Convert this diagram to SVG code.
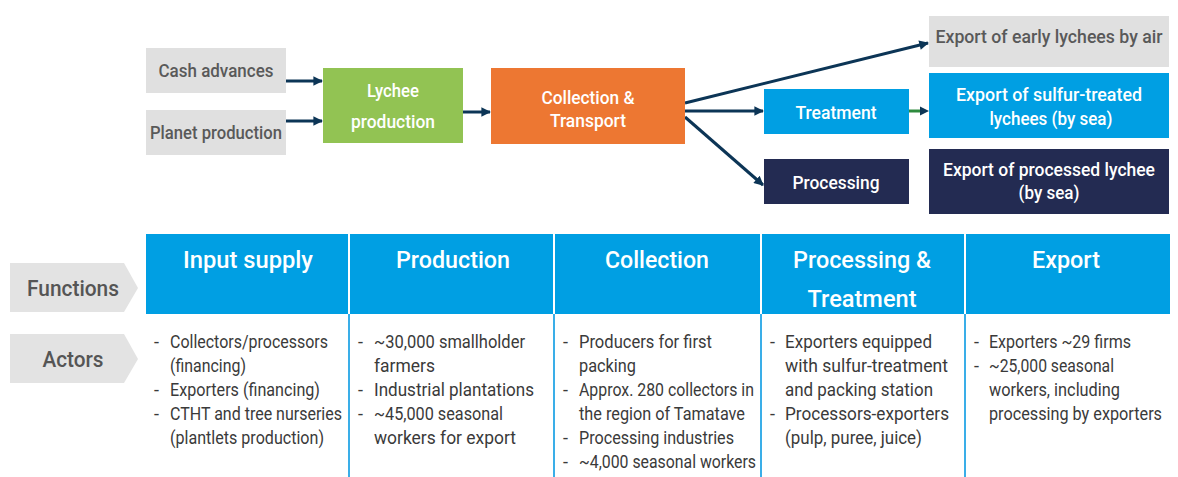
<svg xmlns="http://www.w3.org/2000/svg" width="1178" height="477" viewBox="0 0 1178 477">
<defs>
<marker id="ah" viewBox="0 0 10 10" refX="9" refY="5" markerWidth="3.4" markerHeight="3.2" orient="auto" markerUnits="strokeWidth"><path d="M0,0 L10,5 L0,10 z" fill="#0c3556"/></marker>
</defs>
<style>
text{font-family:Roboto,"Liberation Sans",sans-serif;}
.gt{fill:#595959;font-size:19px;font-weight:500;text-anchor:middle;}
.wt{fill:#ffffff;font-size:19px;font-weight:500;text-anchor:middle;}
.ht{fill:#ffffff;font-size:24.5px;font-weight:500;text-anchor:middle;}
.bt{fill:#3a3a3a;font-size:18px;font-weight:400;}
.lt{fill:#555555;font-size:21.5px;font-weight:500;text-anchor:middle;}
.c{stroke:#0c3556;stroke-width:3;fill:none;marker-end:url(#ah);}
.vl{stroke:#3aaee8;stroke-width:2;}
</style>
<g id="connectors">
<line class="c" x1="286" y1="81" x2="322" y2="81"/>
<line class="c" x1="286" y1="121" x2="322" y2="121"/>
<line class="c" x1="463" y1="112" x2="490" y2="112"/>
<line class="c" x1="685" y1="103" x2="928" y2="43"/>
<line class="c" x1="685" y1="111" x2="763" y2="111"/>
<line class="c" x1="685" y1="117" x2="763" y2="185"/>
<line x1="909" y1="111" x2="921" y2="111" stroke="#2e8b3e" stroke-width="3"/>
<path d="M920,106.5 L929,111 L920,115.5 z" fill="#0c3556"/>
</g>
<g id="cash"><rect x="146" y="48" width="140" height="45" fill="#e0e0e0"/><text class="gt" x="216" y="77" textLength="115" lengthAdjust="spacingAndGlyphs">Cash advances</text></g>
<g id="planet"><rect x="146" y="110" width="140" height="45" fill="#e0e0e0"/><text class="gt" x="216" y="139" textLength="132" lengthAdjust="spacingAndGlyphs">Planet production</text></g>
<g id="lychee"><rect x="323" y="68" width="140" height="75" fill="#92c353"/><text class="wt" x="393" y="97" textLength="52" lengthAdjust="spacingAndGlyphs">Lychee</text><text class="wt" x="393" y="128" textLength="84" lengthAdjust="spacingAndGlyphs">production</text></g>
<g id="collect"><rect x="491" y="68" width="194" height="76" fill="#ed7732"/><text class="wt" x="588" y="104" textLength="93" lengthAdjust="spacingAndGlyphs">Collection &amp;</text><text class="wt" x="588" y="127" textLength="76" lengthAdjust="spacingAndGlyphs">Transport</text></g>
<g id="treatment"><rect x="764" y="89" width="145" height="45" fill="#009fe3"/><text class="wt" x="836" y="119" textLength="81" lengthAdjust="spacingAndGlyphs">Treatment</text></g>
<g id="processing"><rect x="764" y="159" width="145" height="45" fill="#232b52"/><text class="wt" x="836" y="189" textLength="87" lengthAdjust="spacingAndGlyphs">Processing</text></g>
<g id="exp-air"><rect x="929" y="16" width="240" height="51" fill="#e0e0e0"/><text class="gt" x="1049" y="43" textLength="227" lengthAdjust="spacingAndGlyphs">Export of early lychees by air</text></g>
<g id="exp-sulfur"><rect x="929" y="73" width="240" height="65" fill="#009fe3"/><text class="wt" x="1049" y="101" textLength="186" lengthAdjust="spacingAndGlyphs">Export of sulfur-treated</text><text class="wt" x="1051" y="125" textLength="123" lengthAdjust="spacingAndGlyphs">lychees (by sea)</text></g>
<g id="exp-proc"><rect x="929" y="149" width="240" height="65" fill="#232b52"/><text class="wt" x="1049" y="176" textLength="212" lengthAdjust="spacingAndGlyphs">Export of processed lychee</text><text class="wt" x="1049" y="199" textLength="61" lengthAdjust="spacingAndGlyphs">(by sea)</text></g>
<g id="functions"><path d="M10,263 L124,263 L138,288 L124,312 L10,312 z" fill="#e3e3e3"/><text class="lt" x="73" y="296" textLength="92" lengthAdjust="spacingAndGlyphs">Functions</text></g>
<g id="actors"><path d="M10,334 L124,334 L138,359 L124,383 L10,383 z" fill="#e3e3e3"/><text class="lt" x="73" y="367" textLength="61" lengthAdjust="spacingAndGlyphs">Actors</text></g>
<g id="table">
<rect x="146" y="234" width="202" height="80" fill="#009fe3"/>
<rect x="350" y="234" width="203" height="80" fill="#009fe3"/>
<rect x="555" y="234" width="205" height="80" fill="#009fe3"/>
<rect x="762" y="234" width="202" height="80" fill="#009fe3"/>
<rect x="966" y="234" width="204" height="80" fill="#009fe3"/>
<line class="vl" x1="349" y1="314" x2="349" y2="477"/>
<line class="vl" x1="554" y1="314" x2="554" y2="477"/>
<line class="vl" x1="761" y1="314" x2="761" y2="477"/>
<line class="vl" x1="965" y1="314" x2="965" y2="477"/>
<text class="ht" x="248" y="268" textLength="130" lengthAdjust="spacingAndGlyphs">Input supply</text>
<text class="ht" x="453" y="268" textLength="114" lengthAdjust="spacingAndGlyphs">Production</text>
<text class="ht" x="657" y="268" textLength="104" lengthAdjust="spacingAndGlyphs">Collection</text>
<text class="ht" x="862" y="268" textLength="138" lengthAdjust="spacingAndGlyphs">Processing &amp;</text>
<text class="ht" x="862" y="307" textLength="109" lengthAdjust="spacingAndGlyphs">Treatment</text>
<text class="ht" x="1066" y="268" textLength="68" lengthAdjust="spacingAndGlyphs">Export</text>
</g>
<g id="actors-text">
<text class="bt" x="154" y="348">-</text><text class="bt" x="170" y="348" textLength="158" lengthAdjust="spacingAndGlyphs">Collectors/processors</text>
<text class="bt" x="170" y="372" textLength="76" lengthAdjust="spacingAndGlyphs">(financing)</text>
<text class="bt" x="154" y="396">-</text><text class="bt" x="170" y="396" textLength="150" lengthAdjust="spacingAndGlyphs">Exporters (financing)</text>
<text class="bt" x="154" y="420">-</text><text class="bt" x="170" y="420" textLength="172" lengthAdjust="spacingAndGlyphs">CTHT and tree nurseries</text>
<text class="bt" x="170" y="444" textLength="154" lengthAdjust="spacingAndGlyphs">(plantlets production)</text>

<text class="bt" x="358" y="348">-</text><text class="bt" x="374" y="348" textLength="151" lengthAdjust="spacingAndGlyphs">~30,000 smallholder</text>
<text class="bt" x="374" y="372" textLength="61" lengthAdjust="spacingAndGlyphs">farmers</text>
<text class="bt" x="358" y="396">-</text><text class="bt" x="374" y="396" textLength="160" lengthAdjust="spacingAndGlyphs">Industrial plantations</text>
<text class="bt" x="358" y="420">-</text><text class="bt" x="374" y="420" textLength="129" lengthAdjust="spacingAndGlyphs">~45,000 seasonal</text>
<text class="bt" x="374" y="444" textLength="142" lengthAdjust="spacingAndGlyphs">workers for export</text>

<text class="bt" x="563" y="348">-</text><text class="bt" x="579" y="348" textLength="133" lengthAdjust="spacingAndGlyphs">Producers for first</text>
<text class="bt" x="579" y="372" textLength="57" lengthAdjust="spacingAndGlyphs">packing</text>
<text class="bt" x="563" y="396">-</text><text class="bt" x="579" y="396" textLength="175" lengthAdjust="spacingAndGlyphs">Approx. 280 collectors in</text>
<text class="bt" x="579" y="420" textLength="166" lengthAdjust="spacingAndGlyphs">the region of Tamatave</text>
<text class="bt" x="563" y="444">-</text><text class="bt" x="579" y="444" textLength="155" lengthAdjust="spacingAndGlyphs">Processing industries</text>
<text class="bt" x="563" y="468">-</text><text class="bt" x="579" y="468" textLength="177" lengthAdjust="spacingAndGlyphs">~4,000 seasonal workers</text>

<text class="bt" x="770" y="348">-</text><text class="bt" x="785" y="348" textLength="147" lengthAdjust="spacingAndGlyphs">Exporters equipped</text>
<text class="bt" x="785" y="372" textLength="163" lengthAdjust="spacingAndGlyphs">with sulfur-treatment</text>
<text class="bt" x="785" y="396" textLength="148" lengthAdjust="spacingAndGlyphs">and packing station</text>
<text class="bt" x="770" y="420">-</text><text class="bt" x="785" y="420" textLength="164" lengthAdjust="spacingAndGlyphs">Processors-exporters</text>
<text class="bt" x="785" y="444" textLength="137" lengthAdjust="spacingAndGlyphs">(pulp, puree, juice)</text>

<text class="bt" x="974" y="348">-</text><text class="bt" x="989" y="348" textLength="142" lengthAdjust="spacingAndGlyphs">Exporters ~29 firms</text>
<text class="bt" x="974" y="372">-</text><text class="bt" x="989" y="372" textLength="125" lengthAdjust="spacingAndGlyphs">~25,000 seasonal</text>
<text class="bt" x="989" y="396" textLength="131" lengthAdjust="spacingAndGlyphs">workers, including</text>
<text class="bt" x="989" y="420" textLength="173" lengthAdjust="spacingAndGlyphs">processing by exporters</text>
</g>
</svg>
